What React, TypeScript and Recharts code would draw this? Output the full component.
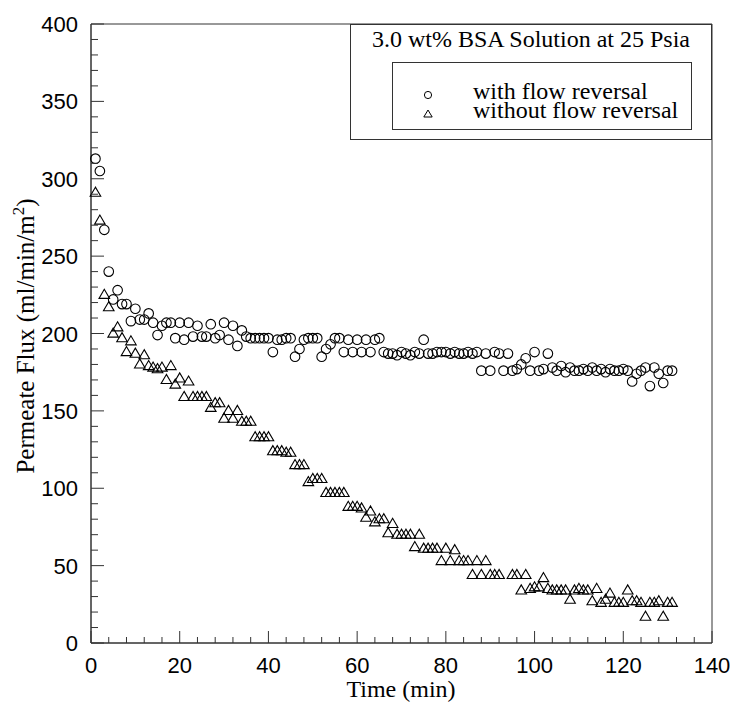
import React from "react";
import { ScatterChart, Scatter, XAxis, YAxis, ReferenceArea, Legend } from "recharts";

// permeate flux readings, [time (min), flux (ml/min/m2)]
const withReversal: [number, number][] = [
  [1, 313], [2, 305], [3, 267], [4, 240], [5, 222], [6, 228], [7, 219], [8, 219], [9, 208], [10, 216],
  [11, 209], [12, 209], [13, 213], [14, 207], [15, 199], [16, 205], [17, 207], [18, 207], [19, 197], [20, 207],
  [21, 196], [22, 207], [23, 198], [24, 205], [25, 198], [26, 198], [27, 206], [28, 197], [29, 199], [30, 207],
  [31, 196], [32, 205], [33, 192], [34, 202], [35, 198], [36, 197], [37, 197], [38, 197], [39, 197], [40, 197],
  [41, 188], [42, 196], [43, 196], [44, 197], [45, 197], [46, 185], [47, 190], [48, 196], [49, 197], [50, 197],
  [51, 197], [52, 185], [53, 190], [54, 193], [55, 197], [56, 197], [57, 188], [58, 196], [59, 188], [60, 196],
  [61, 188], [62, 196], [63, 188], [64, 196], [65, 197], [66, 188], [67, 187], [68, 187], [69, 186], [70, 188],
  [71, 187], [72, 186], [73, 188], [74, 187], [75, 196], [76, 187], [77, 187], [78, 188], [79, 188], [80, 188],
  [81, 187], [82, 188], [83, 187], [84, 187], [85, 188], [86, 187], [87, 188], [88, 176], [89, 187], [90, 176],
  [91, 188], [92, 187], [93, 176], [94, 187], [95, 176], [96, 177], [97, 180], [98, 184], [99, 176], [100, 188],
  [101, 176], [102, 177], [103, 187], [104, 178], [105, 176], [106, 179], [107, 175], [108, 178], [109, 176], [110, 176],
  [111, 177], [112, 176], [113, 178], [114, 176], [115, 177], [116, 175], [117, 177], [118, 176], [119, 176], [120, 177],
  [121, 176], [122, 169], [123, 174], [124, 176], [125, 178], [126, 166], [127, 178], [128, 174], [129, 168], [130, 176],
  [131, 176],
];

const withoutReversal: [number, number][] = [
  [1, 291], [2, 273], [3, 225], [4, 217], [5, 200], [6, 204], [7, 197], [8, 188], [9, 195], [10, 187],
  [11, 180], [12, 186], [13, 179], [14, 178], [15, 177], [16, 178], [17, 170], [18, 179], [19, 167], [20, 171],
  [21, 159], [22, 169], [23, 159], [24, 159], [25, 159], [26, 159], [27, 152], [28, 155], [29, 155], [30, 145],
  [31, 150], [32, 145], [33, 150], [34, 143], [35, 143], [36, 143], [37, 133], [38, 133], [39, 133], [40, 133],
  [41, 124], [42, 124], [43, 124], [44, 123], [45, 123], [46, 115], [47, 115], [48, 115], [49, 104], [50, 106],
  [51, 106], [52, 106], [53, 97], [54, 97], [55, 97], [56, 97], [57, 97], [58, 88], [59, 88], [60, 88],
  [61, 87], [62, 81], [63, 85], [64, 78], [65, 80], [66, 80], [67, 71], [68, 77], [69, 70], [70, 70],
  [71, 70], [72, 70], [73, 62], [74, 70], [75, 61], [76, 61], [77, 61], [78, 61], [79, 53], [80, 61],
  [81, 53], [82, 60], [83, 53], [84, 53], [85, 53], [86, 44], [87, 53], [88, 44], [89, 53], [90, 44],
  [91, 44], [92, 44], [95, 44], [96, 44], [97, 34], [98, 44], [99, 35], [100, 36],
  [101, 36], [102, 42], [103, 35], [104, 34], [105, 34], [106, 34], [107, 34], [108, 28], [109, 34], [110, 35],
  [111, 34], [112, 34], [113, 27], [114, 35], [115, 26], [116, 28], [117, 32], [118, 26], [119, 26], [120, 26],
  [121, 34], [122, 27], [123, 27], [124, 26], [125, 17], [126, 26], [127, 26], [128, 27], [129, 17], [130, 26],
  [131, 26],
];

const xTicks = [0, 4, 8, 12, 16, 20, 24, 28, 32, 36, 40, 44, 48, 52, 56, 60, 64, 68, 72, 76, 80, 84, 88, 92, 96, 100, 104, 108, 112, 116, 120, 124, 128, 132, 136, 140];
const yTicks = [0, 10, 20, 30, 40, 50, 60, 70, 80, 90, 100, 110, 120, 130, 140, 150, 160, 170, 180, 190, 200, 210, 220, 230, 240, 250, 260, 270, 280, 290, 300, 310, 320, 330, 340, 350, 360, 370, 380, 390, 400];

const legendTitle = "3.0 wt% BSA Solution at 25 Psia";
const seriesNames = ["with flow reversal", "without flow reversal"];

const SERIF = "'Liberation Serif', 'Times New Roman', serif";
const SANS = "'Liberation Sans', Arial, sans-serif";
const INK = "#333";

const toPoints = (rows: [number, number][]) => rows.map(([t, v]) => ({ t, v }));

function CircleMark(props: any) {
  const { cx, cy } = props;
  return <circle cx={cx} cy={cy} r={4.8} fill="none" stroke="#000" strokeWidth={1.1} />;
}

function TriangleMark(props: any) {
  const { cx, cy } = props;
  const pts = `${cx},${cy - 5.5} ${cx - 5.3},${cy + 3.6} ${cx + 5.3},${cy + 3.6}`;
  return <polygon points={pts} fill="none" stroke="#000" strokeWidth={1.1} />;
}

function XTick(props: any) {
  const { x, y, payload } = props;
  const major = payload.value % 20 === 0;
  return (
    <g>
      <line x1={x} y1={y} x2={x} y2={y - (major ? 12 : 6)} stroke={INK} />
      {major && (
        <text x={x} y={y + 30} textAnchor="middle" fontFamily={SANS} fontSize={22} fill="#000">
          {payload.value}
        </text>
      )}
    </g>
  );
}

function YTick(props: any) {
  const { x, y, payload } = props;
  const major = payload.value % 50 === 0;
  return (
    <g>
      <line x1={x} y1={y} x2={x + (major ? 13 : 7)} y2={y} stroke={INK} />
      {major && (
        <text x={x - 13} y={y + 8} textAnchor="end" fontFamily={SANS} fontSize={22} fill="#000">
          {payload.value}
        </text>
      )}
    </g>
  );
}

function YLabel() {
  return (
    <text x={34} y={336} transform="rotate(-90 34 336)" textAnchor="middle" fontFamily={SERIF} fontSize={25} fill="#000">
      Permeate Flux (ml/min/m<tspan dy={-10} fontSize={17}>2</tspan><tspan dy={10}>)</tspan>
    </text>
  );
}

function XLabel() {
  return (
    <text x={401} y={697} textAnchor="middle" fontFamily={SERIF} fontSize={24} fill="#000">
      Time (min)
    </text>
  );
}

function LegendBox() {
  const row = (i: number) => (
    <div key={i} style={{ position: "absolute", left: 0, top: 54 + i * 19, height: 24, lineHeight: "24px", whiteSpace: "nowrap" }}>
      <svg width={16} height={16} style={{ position: "absolute", left: 69, top: 8 }}>
        {i === 0 ? (
          <circle cx={8} cy={8} r={3.6} fill="none" stroke="#000" />
        ) : (
          <polygon points="8,4 3.8,11 12.2,11" fill="none" stroke="#000" />
        )}
      </svg>
      <span style={{ position: "absolute", left: 122 }}>{seriesNames[i]}</span>
    </div>
  );
  return (
    <div style={{ position: "relative", width: 362, height: 116, border: `1px solid ${INK}`, boxSizing: "border-box", background: "#fff", fontFamily: SERIF, fontSize: 24, color: "#000" }}>
      <div style={{ position: "absolute", left: 0, right: 0, top: 2, lineHeight: "24px", textAlign: "center", whiteSpace: "nowrap" }}>
        {legendTitle}
      </div>
      <div style={{ position: "absolute", left: 41, top: 37, width: 300, height: 68, border: `1px solid ${INK}`, boxSizing: "border-box" }} />
      {row(0)}
      {row(1)}
    </div>
  );
}

export default function App() {
  return (
    <div style={{ position: "absolute", left: 0, top: 0, width: 735, height: 703, background: "#fff" }}>
      <ScatterChart width={735} height={703} margin={{ top: 24, right: 23, bottom: 0, left: 0 }}>
        <XAxis
          type="number" dataKey="t" domain={[0, 140]} ticks={xTicks} interval={0}
          height={60} tickSize={0} tickMargin={0} tickLine={false}
          axisLine={{ stroke: INK }} tick={<XTick />} label={<XLabel />}
        />
        <YAxis
          type="number" dataKey="v" domain={[0, 400]} ticks={yTicks} interval={0}
          width={91} tickSize={0} tickMargin={0} tickLine={false}
          axisLine={{ stroke: INK }} tick={<YTick />} label={<YLabel />}
        />
        <ReferenceArea x1={0} x2={140} y1={0} y2={400} fill="none" stroke={INK} strokeWidth={1} />
        <Legend
          layout="horizontal" verticalAlign="middle" align="center"
          wrapperStyle={{ position: "absolute", left: 350, top: 24, width: 362, height: 116 }}
          content={() => <LegendBox />}
        />
        <Scatter name={seriesNames[0]} data={toPoints(withReversal)} shape={<CircleMark />} isAnimationActive={false} />
        <Scatter name={seriesNames[1]} data={toPoints(withoutReversal)} shape={<TriangleMark />} isAnimationActive={false} />
      </ScatterChart>
    </div>
  );
}
